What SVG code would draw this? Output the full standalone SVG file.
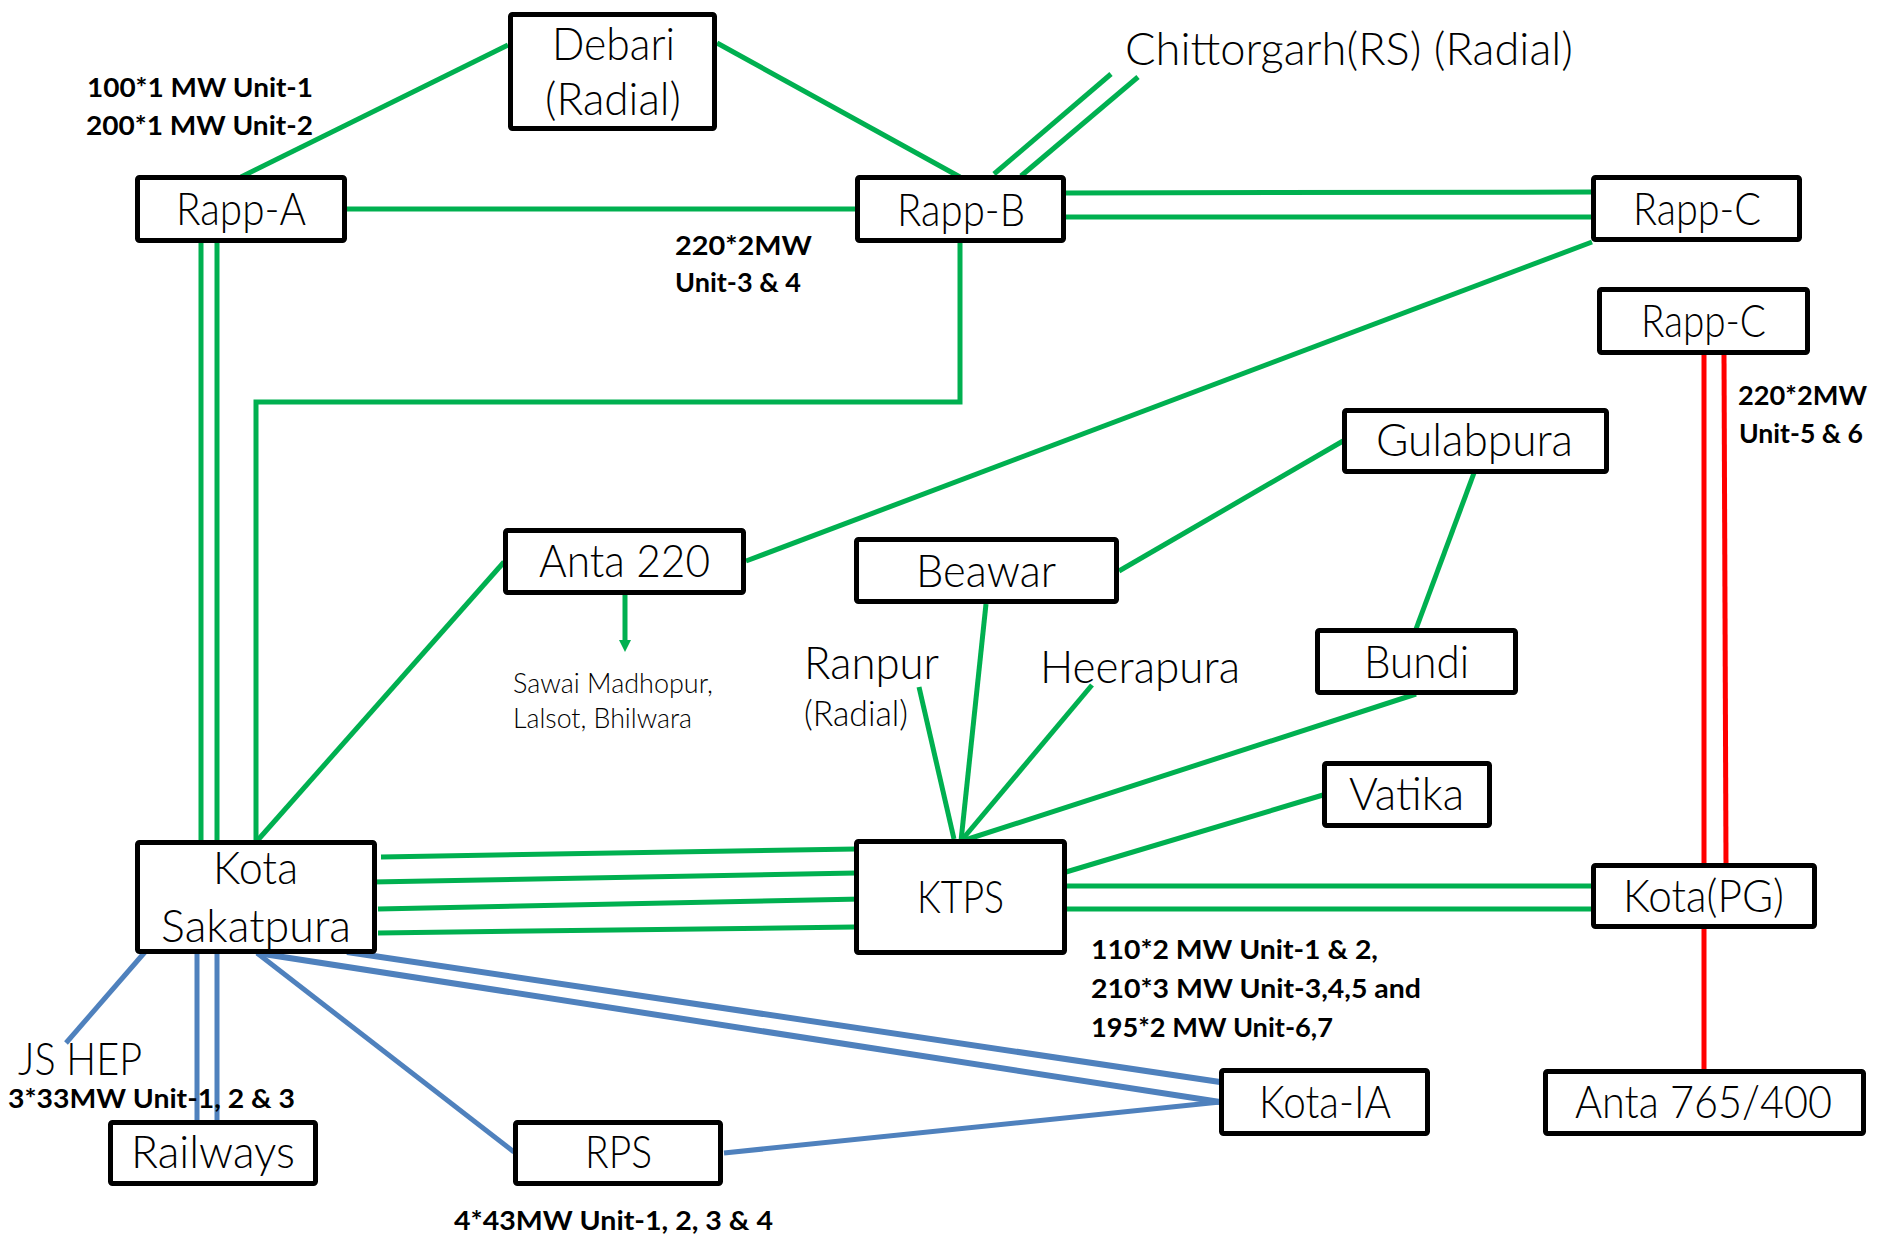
<svg xmlns="http://www.w3.org/2000/svg" width="1880" height="1235" viewBox="0 0 1880 1235">
<defs>
<style>
.box{fill:#fff;stroke:#000;stroke-width:5}
.n{font-family:Lato,"Open Sans","Liberation Sans",sans-serif;font-weight:300;font-size:45px;fill:#000}
.s{font-family:Lato,"Open Sans","Liberation Sans",sans-serif;font-weight:300;font-size:28px;fill:#000}
.b{font-family:Lato,"Liberation Sans",sans-serif;font-weight:700;font-size:27px;fill:#000}
.g{stroke:#00B050;stroke-width:5;fill:none}
.bl{stroke:#4F81BD;stroke-width:5;fill:none}
.r{stroke:#FF0000;stroke-width:5;fill:none}
</style>
<marker id="ah" viewBox="0 0 12 12" refX="2" refY="6" markerWidth="12" markerHeight="12" markerUnits="userSpaceOnUse" orient="auto">
<path d="M0,0 L12,6 L0,12 Z" fill="#00B050"/>
</marker>
</defs>
<rect width="1880" height="1235" fill="#fff"/>
<g id="connectors">
<line class="g" x1="241" y1="177" x2="508" y2="45"/>
<line class="g" x1="717" y1="43" x2="960" y2="177"/>
<line class="g" x1="1111" y1="74" x2="994" y2="174"/>
<line class="g" x1="1138" y1="77" x2="1021" y2="176"/>
<line class="g" x1="345" y1="209" x2="857" y2="209"/>
<line class="g" x1="1065" y1="193" x2="1592" y2="192"/>
<line class="g" x1="1065" y1="217" x2="1592" y2="217"/>
<line class="g" x1="1592" y1="242" x2="746" y2="561"/>
<polyline class="g" points="960,242 960,402 256,402 256,841"/>
<line class="g" x1="201" y1="242" x2="201" y2="841"/>
<line class="g" x1="217" y1="242" x2="217" y2="841"/>
<line class="g" x1="504" y1="562" x2="257" y2="841"/>
<line class="g" x1="625" y1="595" x2="625" y2="642" marker-end="url(#ah)"/>
<line class="g" x1="1119" y1="571" x2="1343" y2="441"/>
<line class="g" x1="1474" y1="473" x2="1416" y2="629"/>
<line class="g" x1="986" y1="604" x2="961" y2="841"/>
<line class="g" x1="919" y1="687" x2="954" y2="839"/>
<line class="g" x1="1092" y1="685" x2="961" y2="841"/>
<line class="g" x1="1416" y1="694" x2="962" y2="841"/>
<line class="g" x1="1323" y1="795" x2="1066" y2="872"/>
<line class="g" x1="1066" y1="886" x2="1592" y2="886"/>
<line class="g" x1="1066" y1="909" x2="1592" y2="909"/>
<line class="g" x1="381" y1="857" x2="856" y2="849"/>
<line class="g" x1="372" y1="882" x2="856" y2="873"/>
<line class="g" x1="378" y1="909" x2="862" y2="899"/>
<line class="g" x1="378" y1="933" x2="854" y2="927"/>
<line class="r" x1="1704" y1="355" x2="1704" y2="864"/>
<line class="r" x1="1724" y1="355" x2="1726" y2="864"/>
<line class="r" x1="1704" y1="929" x2="1704" y2="1070"/>
<line class="bl" x1="145" y1="952" x2="66" y2="1043"/>
<line class="bl" x1="197" y1="953" x2="197" y2="1121"/>
<line class="bl" x1="217" y1="953" x2="217" y2="1121"/>
<line class="bl" x1="257" y1="953" x2="514" y2="1152"/>
<line class="bl" x1="724" y1="1153" x2="1220" y2="1102"/>
<line class="bl" style="stroke-width:6" x1="347" y1="952" x2="1220" y2="1082"/>
<line class="bl" style="stroke-width:6" x1="257" y1="953" x2="1220" y2="1102"/>
</g>
<g id="debari"><rect class="box" x="510.5" y="14.5" width="204" height="114" rx="2"/><text class="n" x="552" y="60" textLength="123" lengthAdjust="spacingAndGlyphs">Debari</text><text class="n" x="545" y="115" textLength="136" lengthAdjust="spacingAndGlyphs">(Radial)</text></g>
<g id="rapp-a"><rect class="box" x="137.5" y="177.5" width="207" height="63" rx="2"/><text class="n" x="176" y="225" textLength="130" lengthAdjust="spacingAndGlyphs">Rapp-A</text></g>
<g id="rapp-b"><rect class="box" x="857.5" y="177.5" width="206" height="63" rx="2"/><text class="n" x="897" y="226" textLength="128" lengthAdjust="spacingAndGlyphs">Rapp-B</text></g>
<g id="rapp-c-top"><rect class="box" x="1593.5" y="177.5" width="206" height="62" rx="2"/><text class="n" x="1633" y="225" textLength="128" lengthAdjust="spacingAndGlyphs">Rapp-C</text></g>
<g id="chittorgarh"><text class="n" x="1125" y="65" textLength="448" lengthAdjust="spacingAndGlyphs">Chittorgarh(RS) (Radial)</text></g>
<g id="rapp-c-low"><rect class="box" x="1599.5" y="289.5" width="208" height="63" rx="2"/><text class="n" x="1641" y="337" textLength="125" lengthAdjust="spacingAndGlyphs">Rapp-C</text></g>
<g id="gulabpura"><rect class="box" x="1344.5" y="410.5" width="262" height="61" rx="2"/><text class="n" x="1376" y="456" textLength="197" lengthAdjust="spacingAndGlyphs">Gulabpura</text></g>
<g id="beawar"><rect class="box" x="856.5" y="539.5" width="260" height="62" rx="2"/><text class="n" x="916" y="587" textLength="140" lengthAdjust="spacingAndGlyphs">Beawar</text></g>
<g id="bundi"><rect class="box" x="1317.5" y="630.5" width="198" height="62" rx="2"/><text class="n" x="1364" y="678" textLength="105" lengthAdjust="spacingAndGlyphs">Bundi</text></g>
<g id="vatika"><rect class="box" x="1324.5" y="763.5" width="165" height="62" rx="2"/><text class="n" x="1349" y="810" textLength="115" lengthAdjust="spacingAndGlyphs">Vatika</text></g>
<g id="ranpur"><text class="n" x="804" y="679" textLength="135" lengthAdjust="spacingAndGlyphs">Ranpur</text><text class="n" style="font-size:36px" x="804" y="726" textLength="104" lengthAdjust="spacingAndGlyphs">(Radial)</text></g>
<g id="heerapura"><text class="n" x="1040" y="683" textLength="200" lengthAdjust="spacingAndGlyphs">Heerapura</text></g>
<g id="anta-220"><rect class="box" x="505.5" y="530.5" width="238" height="62" rx="2"/><text class="n" x="539" y="577" textLength="171" lengthAdjust="spacingAndGlyphs">Anta 220</text></g>
<g id="sawai"><text class="s" x="513" y="693" textLength="200" lengthAdjust="spacingAndGlyphs">Sawai Madhopur,</text><text class="s" x="513" y="728" textLength="179" lengthAdjust="spacingAndGlyphs">Lalsot, Bhilwara</text></g>
<g id="ktps"><rect class="box" x="856.5" y="841.5" width="208" height="111" rx="2"/><text class="n" x="917" y="913" textLength="87" lengthAdjust="spacingAndGlyphs">KTPS</text></g>
<g id="kota-sakatpura"><rect class="box" x="137.5" y="842.5" width="237" height="109" rx="2"/><text class="n" x="213" y="884" textLength="85" lengthAdjust="spacingAndGlyphs">Kota</text><text class="n" x="161" y="942" textLength="190" lengthAdjust="spacingAndGlyphs">Sakatpura</text></g>
<g id="kota-pg"><rect class="box" x="1593.5" y="865.5" width="221" height="61" rx="2"/><text class="n" x="1623" y="912" textLength="161" lengthAdjust="spacingAndGlyphs">Kota(PG)</text></g>
<g id="anta-765"><rect class="box" x="1545.5" y="1071.5" width="318" height="62" rx="2"/><text class="n" x="1575" y="1118" textLength="257" lengthAdjust="spacingAndGlyphs">Anta 765/400</text></g>
<g id="kota-ia"><rect class="box" x="1221.5" y="1070.5" width="206" height="63" rx="2"/><text class="n" x="1259" y="1118" textLength="132" lengthAdjust="spacingAndGlyphs">Kota-IA</text></g>
<g id="railways"><rect class="box" x="110.5" y="1122.5" width="205" height="61" rx="2"/><text class="n" x="131" y="1168" textLength="164" lengthAdjust="spacingAndGlyphs">Railways</text></g>
<g id="rps"><rect class="box" x="515.5" y="1122.5" width="205" height="61" rx="2"/><text class="n" x="585" y="1168" textLength="67" lengthAdjust="spacingAndGlyphs">RPS</text></g>
<g id="js-hep"><text class="n" x="18" y="1075" textLength="124" lengthAdjust="spacingAndGlyphs">JS HEP</text></g>
<g id="labels">
<text class="b" x="87" y="97" textLength="226" lengthAdjust="spacingAndGlyphs">100*1 MW Unit-1</text>
<text class="b" x="86" y="135" textLength="227" lengthAdjust="spacingAndGlyphs">200*1 MW Unit-2</text>
<text class="b" x="675" y="255" textLength="137" lengthAdjust="spacingAndGlyphs">220*2MW</text>
<text class="b" x="675" y="292" textLength="126" lengthAdjust="spacingAndGlyphs">Unit-3 &amp; 4</text>
<text class="b" x="1738" y="405" textLength="129" lengthAdjust="spacingAndGlyphs">220*2MW</text>
<text class="b" x="1739" y="443" textLength="124" lengthAdjust="spacingAndGlyphs">Unit-5 &amp; 6</text>
<text class="b" x="1091" y="959" textLength="287" lengthAdjust="spacingAndGlyphs">110*2 MW Unit-1 &amp; 2,</text>
<text class="b" x="1091" y="998" textLength="330" lengthAdjust="spacingAndGlyphs">210*3 MW Unit-3,4,5 and</text>
<text class="b" x="1091" y="1037" textLength="242" lengthAdjust="spacingAndGlyphs">195*2 MW Unit-6,7</text>
<text class="b" x="8" y="1108" textLength="287" lengthAdjust="spacingAndGlyphs">3*33MW Unit-1, 2 &amp; 3</text>
<text class="b" x="454" y="1230" textLength="319" lengthAdjust="spacingAndGlyphs">4*43MW Unit-1, 2, 3 &amp; 4</text>
</g>
</svg>
